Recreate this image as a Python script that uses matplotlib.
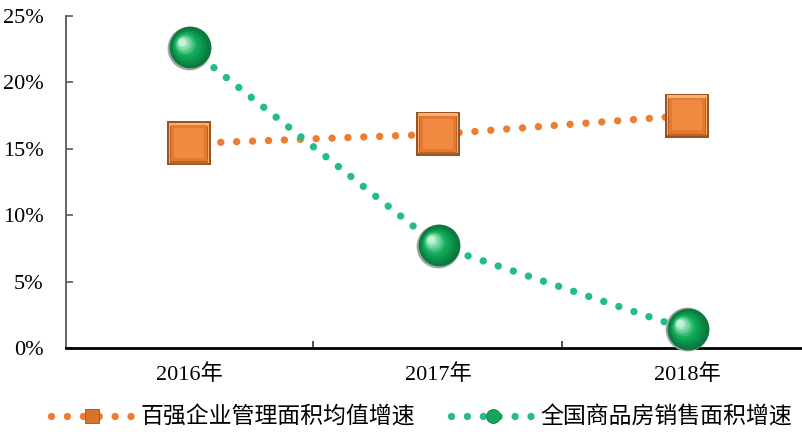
import matplotlib
matplotlib.use("Agg")
import matplotlib.pyplot as plt
from matplotlib.lines import Line2D
from matplotlib.transforms import ScaledTranslation
import numpy as np

plt.rcParams['font.family'] = ['Liberation Serif', 'Noto Sans CJK SC', 'DejaVu Sans']

categories = ['2016年', '2017年', '2018年']
top100_area_growth = [15.4, 16.1, 17.5]     # 百强企业管理面积均值增速 (%)
national_sales_growth = [22.6, 7.7, 1.4]    # 全国商品房销售面积增速 (%)
series_names = ['百强企业管理面积均值增速', '全国商品房销售面积增速']
yticks = [0, 5, 10, 15, 20, 25]

ORANGE = '#ED7D31'
GREEN = '#22BD8C'

fig = plt.figure(figsize=(8.03, 4.34), dpi=100)
ax = fig.add_axes([66 / 803, 1 - 348 / 434, 1 - 66 / 803, (348 - 16) / 434])

x = np.arange(len(categories))
LW = 5.3
dot = (0, (0.01, 2.15))

ax.plot(x, top100_area_growth, color=ORANGE, lw=LW, linestyle=dot,
        dash_capstyle='round', zorder=2, clip_on=False)
ax.plot(x, national_sales_growth, color=GREEN, lw=LW, linestyle=dot,
        dash_capstyle='round', zorder=2, clip_on=False)


def off(dx, dy):
    return ax.transData + ScaledTranslation(dx / 100, dy / 100, fig.dpi_scale_trans)


# bevelled squares
sq_layers = [
    (31, '#9C5222', 0, 0),
    (29.5, '#F9B070', 0, 0.8),
    (28, '#B8632A', 0, -1.2),
    (26, '#E47A32', 0, 0),
    (21, '#EF8A40', 0, 0.2),
]
for size, col, dx, dy in sq_layers:
    ax.plot(x, top100_area_growth, linestyle='none', marker='s', markersize=size,
            markerfacecolor=col, markeredgewidth=0, transform=off(dx, dy),
            zorder=5, clip_on=False)

# shaded spheres (radial gradient approximation)
c_dark = np.array([0x0B, 0x7A, 0x3E]) / 255
c_mid = np.array([0x12, 0xB0, 0x5C]) / 255
c_light = np.array([0xC8, 0xF5, 0xDA]) / 255
ax.plot(x, national_sales_growth, linestyle='none', marker='o', markersize=31.5,
        markerfacecolor='#9AA8A0', markeredgewidth=0, zorder=6, clip_on=False)
ax.plot(x, national_sales_growth, linestyle='none', marker='o', markersize=30,
        markerfacecolor=c_dark, markeredgewidth=0, transform=off(1.5, 0.5),
        zorder=6, clip_on=False)
n = 14
for i in range(n):
    t = i / (n - 1)
    if t < 0.5:
        col = c_dark + (c_mid - c_dark) * (t / 0.5)
    else:
        col = c_mid + (c_light - c_mid) * ((t - 0.5) / 0.5)
    size = 28 * (1 - t) + 5 * t
    shift = 7 * t
    ax.plot(x, national_sales_growth, linestyle='none', marker='o', markersize=size,
            markerfacecolor=col, markeredgewidth=0, alpha=0.9,
            transform=off(-shift * 1.2 + 1, shift * 0.9), zorder=6, clip_on=False)

ax.set_xlim(-0.494, 2.466)
ax.set_ylim(0, 25)

ax.set_xticks(x)
ax.set_xticklabels(categories, fontsize=16)
ax.tick_params(axis='x', which='major', length=0, pad=12)
ax.set_xticks([0.5, 1.5], minor=True)
ax.tick_params(axis='x', which='minor', direction='in', length=5, width=1.2, color='#333333')

ax.set_yticks(yticks)
ax.set_yticklabels([f'{v}%' for v in yticks], fontsize=16)
ax.tick_params(axis='y', direction='in', length=5, width=1.2, color='#595959', pad=16)

for s in ['top', 'right']:
    ax.spines[s].set_visible(False)
ax.spines['left'].set_color('#595959')
ax.spines['left'].set_linewidth(1.3)
ax.spines['bottom'].set_color('#000000')
ax.spines['bottom'].set_linewidth(2.0)

h1 = Line2D([], [], color=ORANGE, lw=LW, linestyle=dot, dash_capstyle='round',
            marker='s', markersize=10, markerfacecolor='#D9722C', markeredgecolor='#9C5222',
            markeredgewidth=0.6)
h2 = Line2D([], [], color=GREEN, lw=LW, linestyle=dot, dash_capstyle='round',
            marker='o', markersize=10, markerfacecolor='#12A85A', markeredgecolor='#0B7A3E',
            markeredgewidth=0.6)
fig.legend([h1, h2], series_names, loc='center', bbox_to_anchor=(0.525, 1 - 418 / 434),
           ncol=2, frameon=False, fontsize=16.5, handlelength=3.6, numpoints=1,
           columnspacing=1.6, handletextpad=0.3)

fig.savefig('out.png', dpi=100)
